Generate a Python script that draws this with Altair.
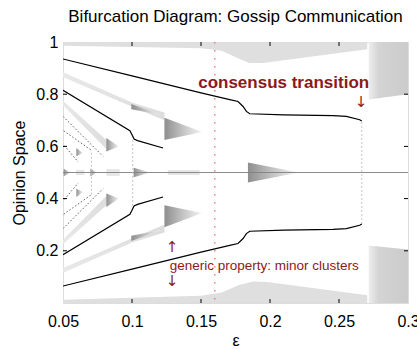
import altair as alt
import pandas as pd

FONT = "Liberation Sans"
ARROW_FONT = "DejaVu Sans"
RED = "#8b1a1a"
X_DOMAIN = [0.05, 0.3]
Y_DOMAIN = [0.0, 1.0]
X_TICKS = [0.05, 0.1, 0.15, 0.2, 0.25, 0.3]
Y_TICKS = [0.2, 0.4, 0.6, 0.8, 1.0]
X_INNER = [0.1, 0.15, 0.2, 0.25]
Y_INNER = [0.2, 0.4, 0.6, 0.8]

# ---- major cluster branches (black) ----
b1u_x = [0.05, 0.10, 0.15, 0.1708, 0.1768, 0.1805, 0.1829, 0.1853, 0.21, 0.2457, 0.2553, 0.265, 0.2665]
b1u_y = [0.935, 0.870, 0.805, 0.779, 0.772, 0.753, 0.734, 0.725, 0.721, 0.718, 0.715, 0.702, 0.697]
b1l_x = [0.05, 0.10, 0.15, 0.1708, 0.1768, 0.1805, 0.1829, 0.1853, 0.21, 0.2457, 0.2553, 0.265, 0.2665]
b1l_y = [0.065, 0.130, 0.195, 0.221, 0.228, 0.247, 0.266, 0.275, 0.279, 0.282, 0.285, 0.298, 0.303]
b2u_x = [0.05, 0.0985, 0.1, 0.1015, 0.104, 0.1225]
b2u_y = [0.815, 0.66, 0.645, 0.628, 0.622, 0.594]
b2l_x = [0.05, 0.0985, 0.1, 0.1015, 0.104, 0.1225]
b2l_y = [0.185, 0.34, 0.355, 0.372, 0.378, 0.406]
# minor dotted branches
b3u_x = [0.05, 0.079]
b3u_y = [0.715, 0.562]
b3l_x = [0.05, 0.079]
b3l_y = [0.285, 0.438]
b4u_x = [0.0505, 0.0706]
b4u_y = [0.66, 0.585]
b4l_x = [0.0505, 0.0706]
b4l_y = [0.34, 0.415]
b5u_x = [0.051, 0.061]
b5u_y = [0.603, 0.54]
b5l_x = [0.051, 0.061]
b5l_y = [0.397, 0.46]

# faint vertical connectors
vert_x = [0.2665, 0.1005, 0.0706]
vert_lo = [0.303, 0.372, 0.415]
vert_hi = [0.697, 0.628, 0.585]

# central cluster
center_x = [0.05, 0.3]
center_y = [0.5, 0.5]

# ---- gray density regions ----
top_x = [0.05, 0.15, 0.165, 0.178, 0.185, 0.195, 0.2705]
top_lo = [0.986, 0.976, 0.966, 0.935, 0.92, 0.92, 0.972]
top_hi = [1.0, 1.0, 1.0, 1.0, 1.0, 1.0, 1.0]
bot_x = [0.05, 0.15, 0.165, 0.178, 0.188, 0.198, 0.2705]
bot_lo = [0.0, 0.0, 0.0, 0.0, 0.0, 0.0, 0.0]
bot_hi = [0.012, 0.028, 0.04, 0.07, 0.082, 0.08, 0.03]
blocktop_x = [0.2715, 0.3]
blocktop_lo = [0.78, 0.80]
blocktop_hi = [1.0, 1.0]
blockbot_x = [0.2715, 0.3]
blockbot_lo = [0.0, 0.0]
blockbot_hi = [0.22, 0.205]

# diagonal light bands
band1u_x = [0.05, 0.1, 0.1235]
band1u_lo = [0.866, 0.752, 0.70]
band1u_hi = [0.884, 0.768, 0.73]
band1l_x = [0.05, 0.1, 0.1235]
band1l_lo = [0.116, 0.232, 0.27]
band1l_hi = [0.134, 0.248, 0.30]
band2u_x = [0.05, 0.0814]
band2u_lo = [0.758, 0.59]
band2u_hi = [0.775, 0.625]
band2l_x = [0.05, 0.0814]
band2l_lo = [0.225, 0.375]
band2l_hi = [0.242, 0.41]

# wedge-shaped clusters: left x, low y, high y, tip x, tip y
tri_x0 = [0.184, 0.1235, 0.1235, 0.1012, 0.0699, 0.0505, 0.0814, 0.0814, 0.0597, 0.0597, 0.0995, 0.0995]
tri_lo = [0.462, 0.625, 0.29, 0.482, 0.486, 0.486, 0.58, 0.368, 0.562, 0.406, 0.742, 0.238]
tri_hi = [0.538, 0.71, 0.375, 0.518, 0.514, 0.514, 0.632, 0.42, 0.594, 0.438, 0.762, 0.258]
tri_x1 = [0.221, 0.151, 0.151, 0.1133, 0.0747, 0.0555, 0.0906, 0.0906, 0.0645, 0.0645, 0.121, 0.121]
tri_tip = [0.5, 0.655, 0.345, 0.5, 0.5, 0.5, 0.60, 0.40, 0.575, 0.425, 0.72, 0.28]

# faint rectangles on the centre line
rect_x0 = [0.0594, 0.0814, 0.126]
rect_x1 = [0.0655, 0.0911, 0.149]
rect_lo = [0.49, 0.487, 0.49]
rect_hi = [0.51, 0.513, 0.51]

# annotations
eps_line = [0.16]
ann1_x, ann1_y, ann1_t = [0.2099], [0.823], ["consensus transition"]
ann2_x, ann2_y, ann2_t = [0.266], [0.770], ["\u2193"]
ann3_x, ann3_y, ann3_t = [0.1273], [0.127], ["generic property: minor clusters"]
ann4_x, ann4_y, ann4_t = [0.129, 0.129], [0.2137, 0.085], ["\u2191", "\u2193"]

XS = alt.Scale(domain=X_DOMAIN, nice=False, zero=False)
YS = alt.Scale(domain=Y_DOMAIN, nice=False, zero=False)
XAX = alt.Axis(values=X_TICKS, format="~g", title="\u03b5", grid=False, domain=False, ticks=False,
               tickSize=0, labelPadding=10, labelFont=FONT, labelFontSize=16, labelColor="black",
               titleFont=FONT, titleFontSize=16, titleFontWeight="normal", titleColor="black",
               titlePadding=3, labelFlush=False, labelOverlap=False)
YAX = alt.Axis(values=Y_TICKS, format="~g", title="Opinion Space", grid=False, domain=False, ticks=False,
               tickSize=0, labelPadding=5, labelFont=FONT, labelFontSize=16, labelColor="black",
               titleFont=FONT, titleFontSize=16, titleFontWeight="normal", titleColor="black",
               titlePadding=8, labelFlush=False, labelOverlap=False)
X = alt.X("x:Q", scale=XS, axis=XAX)
Y = alt.Y("y:Q", scale=YS, axis=YAX)


def shapes_df(shapes):
    rows = []
    for sid, xs, los, his in shapes:
        for xv, lo, hi in zip(xs, los, his):
            rows.append({"id": sid, "x": xv, "y": lo, "hi": hi})
    return pd.DataFrame(rows)


def lines_df(lines):
    rows = []
    for sid, xs, ys in lines:
        for i, (xv, yv) in enumerate(zip(xs, ys)):
            rows.append({"id": sid, "x": xv, "y": yv, "o": i})
    return pd.DataFrame(rows)


def hgrad(stops):
    return alt.Gradient(gradient="linear", x1=0, x2=1, y1=0, y2=0,
                        stops=[alt.GradientStop(color=c, offset=o) for o, c in stops])


def area_layer(df, color, opacity=1.0):
    return alt.Chart(df).mark_area(color=color, orient="vertical", clip=True, opacity=opacity,
                                   interpolate="linear").encode(
        x=X, y=Y, y2="hi:Q", detail="id:N")


regions = shapes_df([("t", top_x, top_lo, top_hi), ("b", bot_x, bot_lo, bot_hi)])
blocks = shapes_df([("bt", blocktop_x, blocktop_lo, blocktop_hi), ("bb", blockbot_x, blockbot_lo, blockbot_hi)])
bands = shapes_df([("b1u", band1u_x, band1u_lo, band1u_hi), ("b1l", band1l_x, band1l_lo, band1l_hi),
                   ("b2u", band2u_x, band2u_lo, band2u_hi), ("b2l", band2l_x, band2l_lo, band2l_hi)])
tris = shapes_df([(f"tr{i}", [a, b], [lo, tp], [hi, tp])
                  for i, (a, b, lo, hi, tp) in enumerate(zip(tri_x0, tri_x1, tri_lo, tri_hi, tri_tip))])
rects = pd.DataFrame({"x": rect_x0, "x2": rect_x1, "y": rect_lo, "hi": rect_hi})

solid = lines_df([("1u", b1u_x, b1u_y), ("1l", b1l_x, b1l_y), ("2u", b2u_x, b2u_y), ("2l", b2l_x, b2l_y)])
dotted = lines_df([("3u", b3u_x, b3u_y), ("3l", b3l_x, b3l_y), ("4u", b4u_x, b4u_y), ("4l", b4l_x, b4l_y),
                   ("5u", b5u_x, b5u_y), ("5l", b5l_x, b5l_y)])
verts = pd.DataFrame({"x": vert_x, "y": vert_lo, "hi": vert_hi})
center = pd.DataFrame({"x": center_x, "y": center_y})

layers = [
    area_layer(regions, "#dfdfdf"),
    area_layer(blocks, hgrad([(0, "#eeeeee"), (0.25, "#d4d4d4"), (1, "#cbcbcb")])),
    area_layer(bands, hgrad([(0, "#e8e8e8"), (1, "#dddddd")])),
    alt.Chart(rects).mark_rect(color="#e6e6e6", clip=True).encode(x=X, x2="x2:Q", y=Y, y2="hi:Q"),
    area_layer(tris, hgrad([(0, "#8e8e8e"), (0.45, "#c0c0c0"), (1, "#f6f6f6")])),
    alt.Chart(center).mark_line(color="#808080", strokeWidth=0.9, clip=True).encode(x=X, y=Y),
    alt.Chart(verts).mark_rule(color="#c4c4c4", strokeWidth=1, strokeDash=[2, 2], clip=True).encode(
        x=X, y=Y, y2="hi:Q"),
    alt.Chart(solid).mark_line(color="black", strokeWidth=1.2, clip=True).encode(
        x=X, y=Y, detail="id:N", order="o:Q"),
    alt.Chart(dotted).mark_line(color="#333333", strokeWidth=0.8, strokeDash=[1.5, 2], clip=True).encode(
        x=X, y=Y, detail="id:N", order="o:Q"),
    alt.Chart(pd.DataFrame({"x": eps_line})).mark_rule(color="#ff6b6b", strokeWidth=1.3,
                                                       strokeDash=[1.5, 6.5]).encode(x=X),
    alt.Chart(pd.DataFrame({"x": ann1_x, "y": ann1_y, "t": ann1_t})).mark_text(
        align="center", baseline="alphabetic", font=FONT, fontSize=17, fontWeight="bold", color=RED
    ).encode(x=X, y=Y, text="t:N"),
    alt.Chart(pd.DataFrame({"x": ann2_x, "y": ann2_y, "t": ann2_t})).mark_text(
        align="center", baseline="middle", font=ARROW_FONT, fontSize=15, color=RED
    ).encode(x=X, y=Y, text="t:N"),
    alt.Chart(pd.DataFrame({"x": ann3_x, "y": ann3_y, "t": ann3_t})).mark_text(
        align="left", baseline="alphabetic", font=FONT, fontSize=13.5, color=RED
    ).encode(x=X, y=Y, text="t:N"),
    alt.Chart(pd.DataFrame({"x": ann4_x, "y": ann4_y, "t": ann4_t})).mark_text(
        align="center", baseline="middle", font=ARROW_FONT, fontSize=15, color=RED
    ).encode(x=X, y=Y, text="t:N"),
    # inward ticks
    alt.Chart(pd.DataFrame({"x": X_INNER})).mark_rule(color="black").encode(
        x=X, y=alt.value(261), y2=alt.value(257)),
    alt.Chart(pd.DataFrame({"x": X_INNER})).mark_rule(color="black").encode(
        x=X, y=alt.value(0), y2=alt.value(4)),
    alt.Chart(pd.DataFrame({"y": Y_INNER})).mark_rule(color="black").encode(
        y=Y, x=alt.value(0), x2=alt.value(4)),
    alt.Chart(pd.DataFrame({"y": Y_INNER})).mark_rule(color="black").encode(
        y=Y, x=alt.value(345), x2=alt.value(341)),
]

chart = alt.layer(*layers).properties(
    width=345, height=261,
    title=alt.TitleParams(text="Bifurcation Diagram: Gossip Communication", font=FONT, fontSize=17,
                          fontWeight="normal", color="black", anchor="middle", offset=3,
                          baseline="alphabetic", dy=8),
    padding={"left": 63, "top": 42, "right": 9, "bottom": 46},
    autosize="none",
).configure_view(stroke="#222222", strokeWidth=1).configure(background="white")

chart.save("out.html", embed_options={"renderer": "svg", "actions": False})
